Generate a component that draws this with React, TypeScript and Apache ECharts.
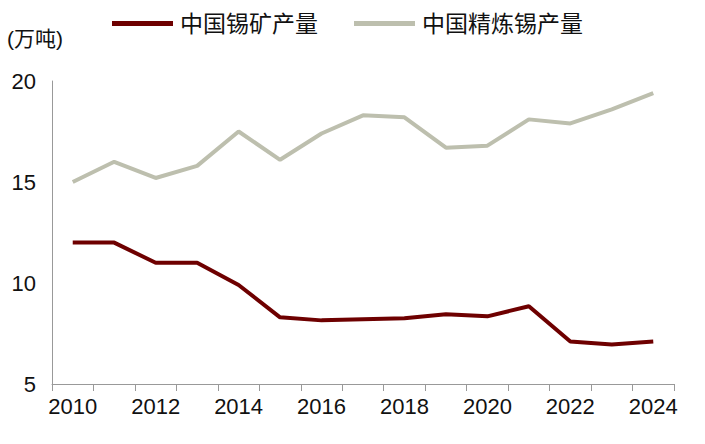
import React, { useEffect, useRef } from "react";
import * as echarts from "echarts";

const years = ["2010","2011","2012","2013","2014","2015","2016","2017","2018","2019","2020","2021","2022","2023","2024"];
const mineOutput = [12.0, 12.0, 11.0, 11.0, 9.9, 8.3, 8.15, 8.2, 8.25, 8.45, 8.35, 8.85, 7.1, 6.95, 7.1];
const refinedOutput = [15.0, 16.0, 15.2, 15.8, 17.5, 16.1, 17.4, 18.3, 18.2, 16.7, 16.8, 18.1, 17.9, 18.6, 19.4];
const seriesNames = ["中国锡矿产量", "中国精炼锡产量"];
const unitLabel = "(万吨)";

export default function App() {
  const ref = useRef<HTMLDivElement>(null);
  useEffect(() => {
    const chart = echarts.init(ref.current!, null, { renderer: "svg" });
    const font = "Arial, 'Liberation Sans', 'Noto Sans CJK SC', sans-serif";
    chart.setOption({
      animation: false,
      backgroundColor: "#ffffff",
      textStyle: { fontFamily: font },
      grid: { left: 52, right: 31, top: 81, bottom: 60, containLabel: false },
      legend: {
        top: 12,
        left: 112,
        padding: 0,
        icon: "rect",
        itemWidth: 61,
        itemHeight: 5,
        itemGap: 36,
        textStyle: { fontSize: 23, color: "#111", fontFamily: font, padding: [0, 0, 0, 2] },
        data: seriesNames,
      },
      graphic: [
        { type: "text", left: 7, top: 28, style: { text: unitLabel, fontSize: 21, fill: "#111", fontFamily: font } },
      ],
      xAxis: {
        type: "category",
        data: years,
        boundaryGap: true,
        axisLine: { lineStyle: { color: "#999", width: 1 } },
        axisTick: { show: true, length: 7, interval: 0, lineStyle: { color: "#999" } },
        axisLabel: { interval: 1, fontSize: 22, color: "#111", margin: 11 },
        splitLine: { show: false },
      },
      yAxis: {
        type: "value",
        min: 5,
        max: 20,
        interval: 5,
        axisLine: { show: true, lineStyle: { color: "#999", width: 1 } },
        axisTick: { show: false },
        axisLabel: { fontSize: 22, color: "#111", margin: 16 },
        splitLine: { show: false },
      },
      series: [
        {
          name: seriesNames[0],
          type: "line",
          data: mineOutput,
          symbol: "none",
          lineStyle: { color: "#6E0000", width: 4 },
          itemStyle: { color: "#6E0000" },
        },
        {
          name: seriesNames[1],
          type: "line",
          data: refinedOutput,
          symbol: "none",
          lineStyle: { color: "#BDBFAE", width: 4 },
          itemStyle: { color: "#BDBFAE" },
        },
      ],
    });
    return () => chart.dispose();
  }, []);
  return <div ref={ref} style={{ width: 705, height: 444, position: "absolute", left: 0, top: 0 }} />;
}
